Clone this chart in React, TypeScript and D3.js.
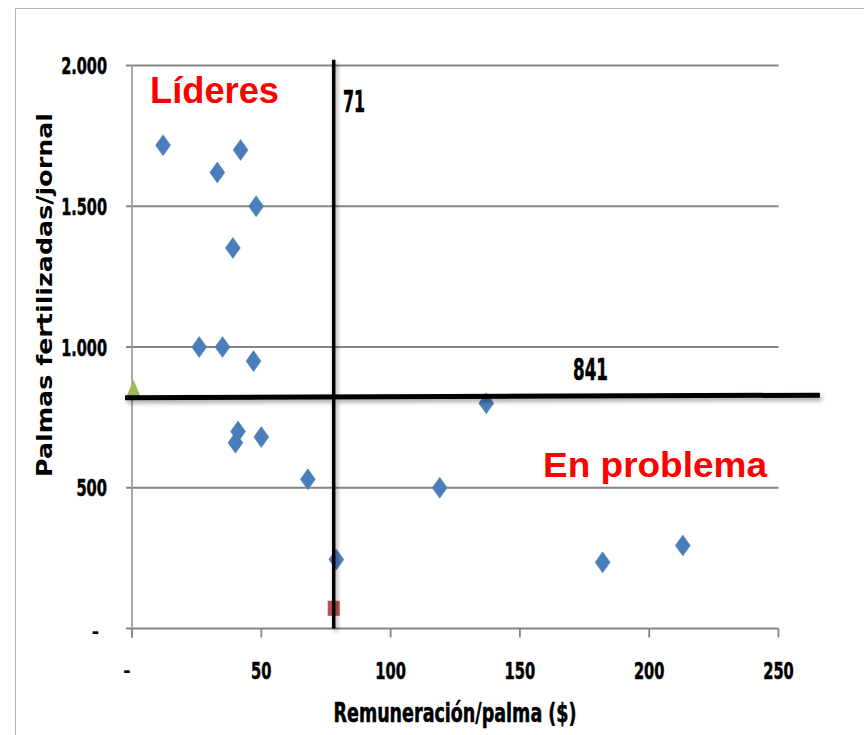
import React from "react";
import * as d3 from "d3";

// ---- data ----
const remuneracion = [12, 33, 42, 48, 39, 26, 35, 47, 41, 40, 50, 68, 79, 137, 119, 182, 213];
const palmasJornal = [1717, 1620, 1700, 1500, 1352, 1000, 1000, 950, 700, 660, 680, 530, 245, 800, 500, 235, 295];
const promedioPunto = [{ x: 0, y: 841 }];
const remPunto = [{ x: 78, y: 70 }];
const xTicks = [0, 50, 100, 150, 200, 250];
const yTicks = [0, 500, 1000, 1500, 2000];
const xTickLabels = ["-", "50", "100", "150", "200", "250"];
const yTickLabels = ["-", "500", "1.000", "1.500", "2.000"];
const vLineX = 78;
const vLineY = [0, 2020];
const hLineX = [-2.7, 266];
const hLineY = [820, 829];

const W = 864;
const H = 735;

const narrow = "'Liberation Sans Narrow', 'DejaVu Sans Condensed', 'Liberation Sans', sans-serif";
const arial = "'Liberation Sans', Arial, sans-serif";

function labelWidth(s: string) {
  let w = 0;
  for (const c of s) w += c === "." ? 5 : 10.2;
  return w;
}

export default function App() {
  const x = d3.scaleLinear().domain([0, 250]).range([132, 778.5]);
  const y = d3.scaleLinear().domain([0, 2000]).range([628.5, 65.5]);

  const diamond = (cx: number, cy: number) =>
    `M${cx},${cy - 10.5}L${cx + 7.5},${cy}L${cx},${cy + 10.5}L${cx - 7.5},${cy}Z`;

  const bold = { stroke: "#000", strokeWidth: 0.5 };

  return (
    <svg width={W} height={H} style={{ position: "absolute", left: 0, top: 0, background: "#fff" }}>
      <defs>
        <filter id="shadow" x="-5%" y="-200%" width="110%" height="500%">
          <feDropShadow dx="2" dy="3" stdDeviation="2" floodColor="#000" floodOpacity="0.35" />
        </filter>
      </defs>
      {/* outer frame */}
      <path d={`M15.5,${H}V8.5H${W}`} fill="none" stroke="#b4b4b4" strokeWidth={1} />

      {/* gridlines */}
      {yTicks.map((t) => (
        <line key={"g" + t} x1={126} x2={x(250)} y1={y(t)} y2={y(t)} stroke="#858585" strokeWidth={1.8} />
      ))}
      {/* y axis */}
      <line x1={x(0)} x2={x(0)} y1={y(2000)} y2={y(0) + 9} stroke="#a0a0a0" strokeWidth={1.8} />
      {/* x ticks */}
      {xTicks.map((t) => (
        <line key={"xt" + t} x1={x(t)} x2={x(t)} y1={y(0)} y2={y(0) + 9} stroke="#858585" strokeWidth={1.8} />
      ))}

      {/* y tick labels */}
      {yTicks.map((t, i) => {
        const s = yTickLabels[i];
        if (s === "-")
          return (
            <text key={"yl" + t} x={99} y={y(t) + 9} textAnchor="end" fontFamily={arial} fontWeight="bold" fontSize={22}>
              -
            </text>
          );
        return (
          <text
            key={"yl" + t}
            x={107}
            y={y(t) + 8.5}
            textAnchor="end"
            fontFamily={narrow}
            fontWeight="bold"
            fontSize={23}
            textLength={labelWidth(s)}
            lengthAdjust="spacingAndGlyphs"
            {...bold}
          >
            {s}
          </text>
        );
      })}

      {/* x tick labels */}
      {xTicks.map((t, i) => {
        const s = xTickLabels[i];
        if (s === "-")
          return (
            <text key={"xl" + t} x={x(t) - 5} y={677} textAnchor="middle" fontFamily={arial} fontWeight="bold" fontSize={22}>
              -
            </text>
          );
        return (
          <text
            key={"xl" + t}
            x={x(t)}
            y={678.5}
            textAnchor="middle"
            fontFamily={narrow}
            fontWeight="bold"
            fontSize={23}
            textLength={labelWidth(s)}
            lengthAdjust="spacingAndGlyphs"
            {...bold}
          >
            {s}
          </text>
        );
      })}

      {/* axis titles */}
      <text
        x={455}
        y={722}
        textAnchor="middle"
        fontFamily={narrow}
        fontWeight="bold"
        fontSize={26}
        textLength={243}
        lengthAdjust="spacingAndGlyphs"
        {...bold}
      >
        Remuneración/palma ($)
      </text>
      <text
        transform="translate(52,295) rotate(-90)"
        textAnchor="middle"
        fontFamily="'DejaVu Sans', Verdana, sans-serif"
        fontWeight="bold"
        fontSize={21}
        textLength={364}
        lengthAdjust="spacingAndGlyphs"
      >
        Palmas fertilizadas/jornal
      </text>

      {/* markers */}
      {remuneracion.map((v, i) => (
        <path key={"d" + i} d={diamond(x(v), y(palmasJornal[i]))} fill="#4a7ebb" stroke="#4a7ebb" strokeWidth={0.5} />
      ))}
      {promedioPunto.map((p, i) => (
        <path
          key={"t" + i}
          d={`M${x(p.x) + 1.5},${y(p.y) - 12}L${x(p.x) + 9},${y(p.y) + 6}L${x(p.x) - 6},${y(p.y) + 6}Z`}
          fill="#9bbb59"
        />
      ))}
      {remPunto.map((p, i) => (
        <rect key={"s" + i} x={x(p.x) - 6} y={y(p.y) - 8} width={12} height={15} fill="#c0504d" />
      ))}

      {/* reference lines */}
      <g filter="url(#shadow)">
        <line x1={x(vLineX)} x2={x(vLineX)} y1={y(vLineY[1])} y2={y(vLineY[0])} stroke="#000" strokeWidth={3.5} />
        <line x1={x(hLineX[0])} x2={x(hLineX[1])} y1={y(hLineY[0])} y2={y(hLineY[1])} stroke="#000" strokeWidth={5} />
      </g>

      {/* annotations */}
      <text x={150} y={103} fontFamily={arial} fontWeight="bold" fontSize={36} fill="#ff0000" textLength={129} lengthAdjust="spacingAndGlyphs">
        Líderes
      </text>
      <text x={543} y={477} fontFamily={arial} fontWeight="bold" fontSize={35} fill="#ff0000" textLength={224} lengthAdjust="spacingAndGlyphs">
        En problema
      </text>
      <text x={343} y={112} fontFamily={narrow} fontWeight="bold" fontSize={30} textLength={22} lengthAdjust="spacingAndGlyphs" {...bold}>
        71
      </text>
      <text x={573} y={380} fontFamily={narrow} fontWeight="bold" fontSize={30} textLength={35} lengthAdjust="spacingAndGlyphs" {...bold}>
        841
      </text>
    </svg>
  );
}
